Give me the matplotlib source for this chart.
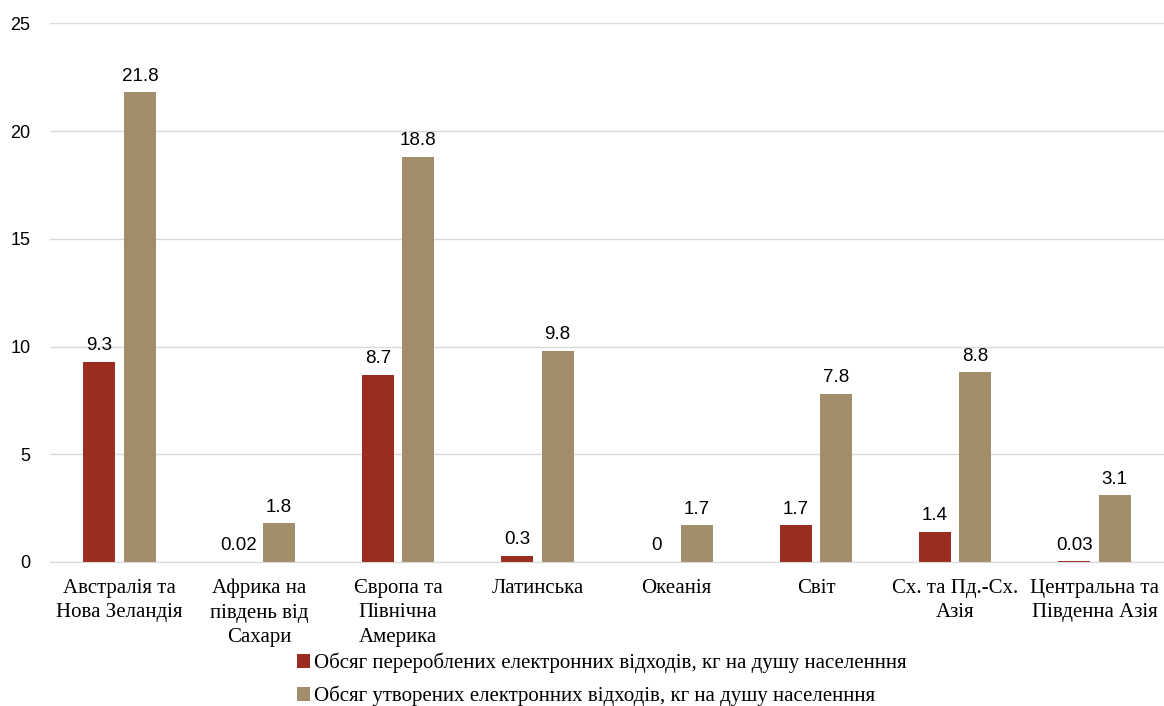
import numpy as np
import matplotlib.pyplot as plt

regions = ["Австралія та\nНова Зеландія", "Африка на\nпівдень від\nСахари",
           "Європа та\nПівнічна\nАмерика", "Латинська", "Океанія", "Світ",
           "Сх. та Пд.-Сх.\nАзія", "Центральна та\nПівденна Азія"]
recycled = [9.3, 0.02, 8.7, 0.3, 0, 1.7, 1.4, 0.03]
generated = [21.8, 1.8, 18.8, 9.8, 1.7, 7.8, 8.8, 3.1]
recycled_labels = ["9.3", "0.02", "8.7", "0.3", "0", "1.7", "1.4", "0.03"]
generated_labels = ["21.8", "1.8", "18.8", "9.8", "1.7", "7.8", "8.8", "3.1"]
series_names = ["Обсяг перероблених електронних відходів, кг на душу населенння",
                "Обсяг утворених електронних відходів, кг на душу населенння"]

red = "#9b2d20"
tan = "#a28d6b"
serif = "Liberation Serif"

fig = plt.figure(figsize=(11.64, 7.06), dpi=100)
ax = fig.add_axes([0.043, 0.204, 0.957, 0.763])

x = np.arange(len(regions))
w = 0.23
gap = 0.03
b1 = ax.bar(x - w / 2 - gap, recycled, w, color=red, label=series_names[0])
b2 = ax.bar(x + w / 2 + gap, generated, w, color=tan, label=series_names[1])

for bars, labels in ((b1, recycled_labels), (b2, generated_labels)):
    for r, lab in zip(bars, labels):
        ax.text(r.get_x() + r.get_width() / 2, r.get_height() + 0.35, lab,
                ha="center", va="bottom", fontsize=13.5, family="Liberation Sans")

ax.set_xlim(-0.5, len(regions) - 0.5)
ax.set_ylim(0, 25)
ax.set_yticks([0, 5, 10, 15, 20, 25])
ax.yaxis.grid(True, color="#d9d9d9", linewidth=1)
ax.set_axisbelow(True)
for s in ["top", "right", "left"]:
    ax.spines[s].set_visible(False)
ax.spines["bottom"].set_color("#d9d9d9")
ax.tick_params(axis="both", length=0)
ax.tick_params(axis="y", pad=14)
ax.set_yticklabels([str(v) for v in [0, 5, 10, 15, 20, 25]],
                   fontsize=13, family="Liberation Sans")
ax.set_xticks(x)
ax.set_xticklabels(regions, fontsize=15, family=serif, linespacing=1.4)
ax.tick_params(axis="x", pad=12)

fig.legend(handles=[b1, b2], loc="upper left", bbox_to_anchor=(0.248, 0.087),
           frameon=False, ncol=1, prop={"family": serif, "size": 15},
           handlelength=0.6, handleheight=0.6, handletextpad=0.2, labelspacing=0.6,
           borderaxespad=0)

fig.savefig("out.png", dpi=100)
